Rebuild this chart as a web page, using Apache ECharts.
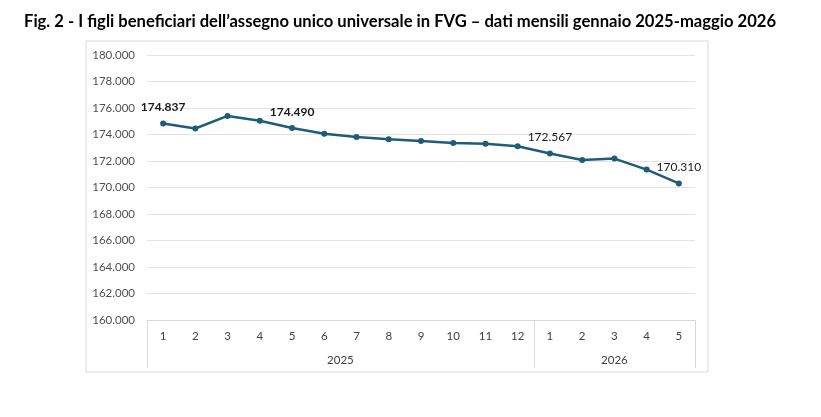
<!DOCTYPE html>
<html>
<head>
<meta charset="utf-8">
<script src="https://cdn.jsdelivr.net/npm/echarts@6/dist/echarts.min.js"></script>
<style>
  html, body { margin: 0; padding: 0; background: #fff; }
  #chart { width: 821px; height: 417px; }
</style>
</head>
<body>
<div id="chart"></div>
<script>
// mesi (asse x) e anni
var months = ['1','2','3','4','5','6','7','8','9','10','11','12','1','2','3','4','5'];
var years = ['2025', '2026'];
var yearSplit = [0, 12, 17];          // confini dei gruppi di mesi
// figli beneficiari per mese
var values = [174837, 174450, 175400, 175040, 174490, 174060, 173810, 173640, 173510,
              173360, 173310, 173110, 172567, 172080, 172180, 171350, 170310];
// punti con etichetta
var labelled = [0, 4, 12, 16];
var boldLabels = [0, 4];

var fmt = function (v) {
    return String(Math.round(v)).replace(/\B(?=(\d{3})+(?!\d))/g, '.');
};

var chart = echarts.init(document.getElementById('chart'));

var seriesData = [];
for (var i = 0; i < values.length; i++) {
    var item = { value: values[i] };
    if (labelled.indexOf(i) >= 0) {
        item.label = {
            show: true,
            fontWeight: boldLabels.indexOf(i) >= 0 ? 'bold' : 'normal'
        };
    }
    seriesData.push(item);
}

chart.setOption({
    textStyle: { fontFamily: 'Lato, "Open Sans", sans-serif' },
    title: {
        text: 'Fig. 2 - I figli beneficiari dell\u2019assegno unico universale in FVG \u2013 dati mensili gennaio 2025-maggio 2026',
        left: 19,
        top: 8,
        textStyle: { fontSize: 16.6, fontWeight: 'bold', color: '#000', fontFamily: 'Lato, sans-serif' }
    },
    graphic: [{
        type: 'rect',
        shape: { x: 86, y: 41, width: 622, height: 331 },
        style: { fill: 'none', stroke: '#d9d9d9', lineWidth: 1 },
        silent: true
    }],
    grid: { left: 147, right: 126, top: 55, bottom: 97 },
    xAxis: [{
        type: 'category',
        data: months,
        boundaryGap: true,
        axisLine: { lineStyle: { color: '#d9d9d9' } },
        axisTick: { show: false },
        axisLabel: { color: '#404040', fontSize: 11.5, margin: 10 }
    }, {
        type: 'value',
        min: 0,
        max: 17,
        position: 'bottom',
        axisLine: { show: false },
        splitLine: { show: false },
        axisTick: {
            show: true,
            length: 48,
            customValues: yearSplit,
            lineStyle: { color: '#d9d9d9' }
        },
        axisLabel: {
            color: '#404040',
            fontSize: 11.5,
            margin: 34,
            customValues: [6, 14.5],
            formatter: function (v) { return v < 12 ? years[0] : years[1]; }
        }
    }],
    yAxis: {
        type: 'value',
        min: 160000,
        max: 180000,
        interval: 2000,
        axisLine: { show: false },
        axisTick: { show: false },
        splitLine: { lineStyle: { color: '#e3e3e3' } },
        axisLabel: { color: '#505050', fontSize: 11.5, margin: 12, formatter: fmt }
    },
    series: [{
        type: 'line',
        xAxisIndex: 0,
        data: seriesData,
        symbol: 'circle',
        symbolSize: 6,
        lineStyle: { color: '#1e5d78', width: 2.5 },
        itemStyle: { color: '#1e5d78' },
        label: {
            show: false,
            position: 'top',
            distance: 7,
            color: '#1a1a1a',
            fontSize: 12,
            formatter: function (p) { return fmt(p.value); }
        },
        animation: false
    }]
});
</script>
</body>
</html>
